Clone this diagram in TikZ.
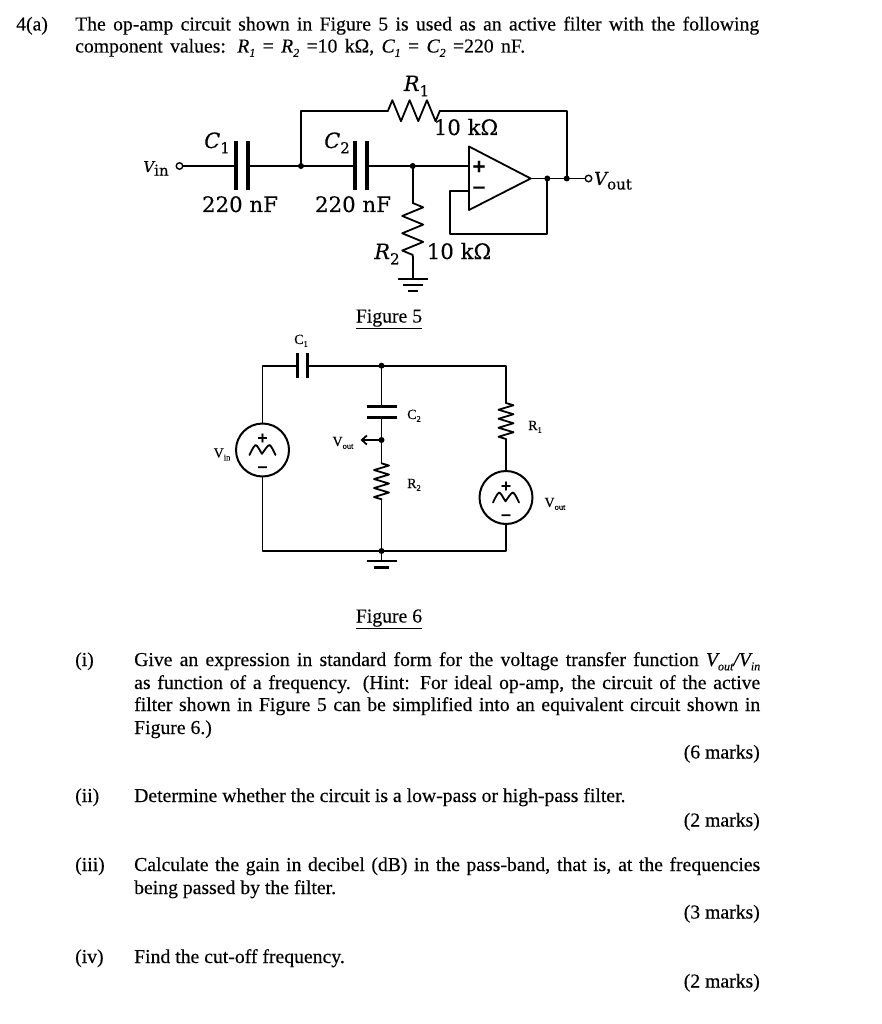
\documentclass[tikz,border=0pt]{standalone}
\usepackage{fontspec}
\usepackage{graphicx}
\setmainfont[FakeBold=0.25]{Liberation Serif}
\newfontfamily\cfont[FakeBold=0.2]{DejaVu Serif}
\usetikzlibrary{decorations.pathmorphing,arrows.meta}
\newcommand\subx[1]{\raisebox{-.22em}{\fontsize{12}{12}\selectfont #1}}
\newcommand\subb[1]{\raisebox{-.25em}{\upshape\fontsize{15}{15}\selectfont #1}}
\newcommand\subs[1]{\raisebox{-.2em}{\fontsize{8.5}{8.5}\selectfont #1}}
\newcommand\jl[2]{\makebox[#1pt][s]{#2}}
\tikzset{
  wire/.style={line width=1.8pt,line cap=round,line join=round},
  plate/.style={line width=3.2pt},
  resbig/.style={wire,decorate,decoration={zigzag,segment length=17.3pt,amplitude=10.5pt}},
  ressmall/.style={wire,decorate,decoration={zigzag,segment length=9pt,amplitude=7.5pt}},
  txt/.style={anchor=base west,inner sep=0pt,font=\fontsize{19.7}{22}\selectfont},
  marks/.style={anchor=base east,inner sep=0pt,font=\fontsize{19.7}{22}\selectfont},
  ctitle/.style={anchor=base,inner sep=0pt,font=\fontsize{19.7}{22}\selectfont},
  big/.style={inner sep=0pt,anchor=base,font=\cfont\fontsize{21.3}{22}\selectfont},
  bigi/.style={inner sep=0pt,anchor=base,font=\cfont\itshape\fontsize{21}{22}\selectfont},
  small/.style={inner sep=0pt,anchor=base,font=\fontsize{14}{14}\selectfont},
  term/.style={circle,draw,line width=1.4pt,fill=white,minimum size=6.5pt,inner sep=0pt},
  src/.style={circle,draw,line width=2pt,fill=white,minimum size=53pt,inner sep=0pt},
  pm/.style={inner sep=0pt,font=\cfont\bfseries\fontsize{14}{14}\selectfont},
  pmb/.style={inner sep=0pt,font=\cfont\bfseries\fontsize{18}{18}\selectfont},
}
\newcommand\junction[1]{\fill (#1) circle (3pt);}
\newcommand\wave[1]{\draw[wire] plot[smooth] coordinates {([shift={(-13,5)}]#1) ([shift={(-7,-5)}]#1) ([shift={(-1,3)}]#1) ([shift={(0,3)}]#1) ([shift={(7,-5)}]#1) ([shift={(13,5)}]#1)};}
\begin{document}
\begin{tikzpicture}[x=1pt,y=-1pt]
\useasboundingbox[fill=white] (0,0) rectangle (882,1024);
% ---- text
\node[txt] (q) at (16,30.5) {4(a)};
\node[txt] (l1) at (75,30.5) {\jl{684}{The op-amp circuit shown in Figure 5 is used as an active filter with the following}};
\node[txt] (l2) at (75,52.5) {\jl{450}{component values: \textit{R\subx{1}} = \textit{R\subx{2}} =10 kΩ, \textit{C\subx{1}} = \textit{C\subx{2}} =220 nF.}};
\node[ctitle] (f5) at (389,322.5) {\underline{Figure 5}};
\node[ctitle] (f6) at (389,622.5) {\underline{Figure 6}};
\node[txt] (i) at (75,666) {(i)};
\node[txt] (i1) at (134,666) {\jl{626}{Give an expression in standard form for the voltage transfer function \textit{V\subx{out}/V\subx{in}}}};
\node[txt] (i2) at (134,689) {\jl{626}{as function of a frequency. (Hint: For ideal op-amp, the circuit of the active}};
\node[txt] (i3) at (134,711) {\jl{626}{filter shown in Figure 5 can be simplified into an equivalent circuit shown in}};
\node[txt] (i4) at (134,734) {Figure 6.)};
\node[marks] (m1) at (760,758.5) {(6 marks)};
\node[txt] (ii) at (75,802) {(ii)};
\node[txt] (ii1) at (134,802) {Determine whether the circuit is a low-pass or high-pass filter.};
\node[marks] (m2) at (760,826.5) {(2 marks)};
\node[txt] (iii) at (75,871) {(iii)};
\node[txt] (iii1) at (134,871) {\jl{626}{Calculate the gain in decibel (dB) in the pass-band, that is, at the frequencies}};
\node[txt] (iii2) at (134,894) {being passed by the filter.};
\node[marks] (m3) at (760,918.5) {(3 marks)};
\node[txt] (iv) at (75,963) {(iv)};
\node[txt] (iv1) at (134,963) {Find the cut-off frequency.};
\node[marks] (m4) at (760,987.5) {(2 marks)};
% ---- Figure 5
\node[term] (vin) at (179.5,166) {};
\node[term] (vout) at (588.5,178.5) {};
\coordinate (c1l) at (236,166); \coordinate (c1r) at (248,166);
\coordinate (j1) at (301,166);
\coordinate (c2l) at (355,166); \coordinate (c2r) at (367,166);
\coordinate (j2) at (412.7,166);
\coordinate (r1l) at (388,110.7); \coordinate (r1r) at (440,110.7);
\coordinate (tl) at (301,110.7); \coordinate (tr) at (566.7,110.7);
\coordinate (opt) at (469,146.5); \coordinate (opb) at (469,210); \coordinate (opo) at (530.7,178.5);
\coordinate (opp) at (469,166); \coordinate (opm) at (469,190.7);
\coordinate (j3) at (547.3,178.5); \coordinate (j4) at (566.7,178.5);
\coordinate (fl) at (450,190.7); \coordinate (fbl) at (450,234); \coordinate (fbr) at (547.3,234);
\coordinate (r2t) at (412.7,203); \coordinate (r2b) at (412.7,256.7);
\coordinate (g5) at (412.7,279.3);
\draw[plate] (236,141.5) -- (236,190);
\draw[plate] (248,141.5) -- (248,190);
\draw[plate] (355,141.5) -- (355,190);
\draw[plate] (367,141.5) -- (367,190);
\draw[wire] (vin) -- (c1l) (c1r) -- (j1) -- (c2l) (c2r) -- (j2) -- (opp);
\draw[wire] (j1) -- (tl) -- (r1l) (r1r) -- (tr) -- (j4);
\draw[resbig] (r1l) -- (r1r);
\draw[wire] (opt) -- (opb) -- (opo) -- cycle;
\draw[wire] (opo) -- (j3) -- (j4) -- (vout);
\draw[wire] (opm) -- (fl) -- (fbl) -- (fbr) -- (j3);
\draw[wire] (j2) -- (r2t) (r2b) -- (g5);
\draw[resbig] (r2t) -- (r2b);
\draw[line width=2.2pt] (398,279.3) -- (428,279.3) (403,285) -- (423,285) (408,291) -- (418,291);
\junction{j1}\junction{j2}\junction{j3}\junction{j4}
\node[pmb] (plus) at (479,166.5) {+};
\node[pmb] (minus) at (479,190) {−};
\node[bigi] (lr1) at (416.5,91) {R\subb{1}};
\node[big] (lr1v) at (466,135) {10 kΩ};
\node[bigi] (lc1) at (217,148) {C\subb{1}};
\node[bigi] (lc2) at (337,148) {C\subb{2}};
\node[big] (lv1) at (240,212) {220 nF};
\node[big] (lv2) at (353,212) {220 nF};
\node[bigi,font=\cfont\itshape\fontsize{15}{15}\selectfont] (lvin) at (156,172) {V\subb{in}};
\node[bigi,font=\cfont\itshape\fontsize{18}{18}\selectfont] (lvout) at (613,185) {V\subb{out}};
\node[bigi] (lr2) at (387,259) {R\subb{2}};
\node[big] (lr2v) at (459,259) {10 kΩ};
% ---- Figure 6
\node[src] (s1) at (262.5,450) {};
\node[src] (s2) at (506,497.5) {};
\coordinate (tl6) at (262.5,365.7); \coordinate (tr6) at (506,365.7);
\coordinate (p1l) at (297.3,365.7); \coordinate (p1r) at (307.3,365.7);
\coordinate (j5) at (381.5,365.7);
\coordinate (p2t) at (381.5,406.7); \coordinate (p2b) at (381.5,417.7);
\coordinate (j6) at (381.5,440);
\coordinate (vo) at (360.5,440);
\coordinate (r3t) at (381.5,463.3); \coordinate (r3b) at (381.5,499.3);
\coordinate (j7) at (381.5,551);
\coordinate (r4t) at (506,403); \coordinate (r4b) at (506,439);
\coordinate (bl6) at (262.5,551); \coordinate (br6) at (506,551);
\coordinate (g6) at (381.5,561);
\draw[plate] (297.3,353) -- (297.3,378);
\draw[plate] (307.3,353) -- (307.3,378);
\draw[plate] (366.5,406.7) -- (396.5,406.7);
\draw[plate] (366.5,417.7) -- (396.5,417.7);
\draw[wire] (s1) -- (tl6) -- (p1l) (p1r) -- (j5) -- (tr6) -- (r4t) (r4b) -- (s2) (s2) -- (br6) -- (j7) -- (bl6) -- (s1);
\draw[wire] (j5) -- (p2t) (p2b) -- (j6) -- (r3t) (r3b) -- (j7) -- (g6);
\draw[wire,-{Straight Barb[length=5pt,width=9pt]}] (j6) -- (vo);
\draw[ressmall] (r3t) -- (r3b);
\draw[ressmall] (r4t) -- (r4b);
\draw[line width=2.4pt] (366.5,561) -- (396.5,561) (374,567.5) -- (389,567.5);
\junction{j5}\junction{j6}\junction{j7}
\wave{s1}
\wave{s2}
\node[pm] (s1p) at (262.5,438) {+};
\node[pm] (s1m) at (262.5,469) {−};
\node[pm] (s2p) at (506,486) {+};
\node[pm] (s2m) at (506,517) {−};
\node[small] (t1) at (301,344) {C\subs{1}};
\node[small] (t2) at (414,419) {C\subs{2}};
\node[small] (t3) at (535,430) {R\subs{1}};
\node[small] (t4) at (414,488) {R\subs{2}};
\node[small] (t5) at (222,457.5) {V\subs{in}};
\node[small] (t6) at (343,446) {V\subs{out}};
\node[small] (t7) at (555,507) {V\subs{out}};
\end{tikzpicture}
\end{document}
